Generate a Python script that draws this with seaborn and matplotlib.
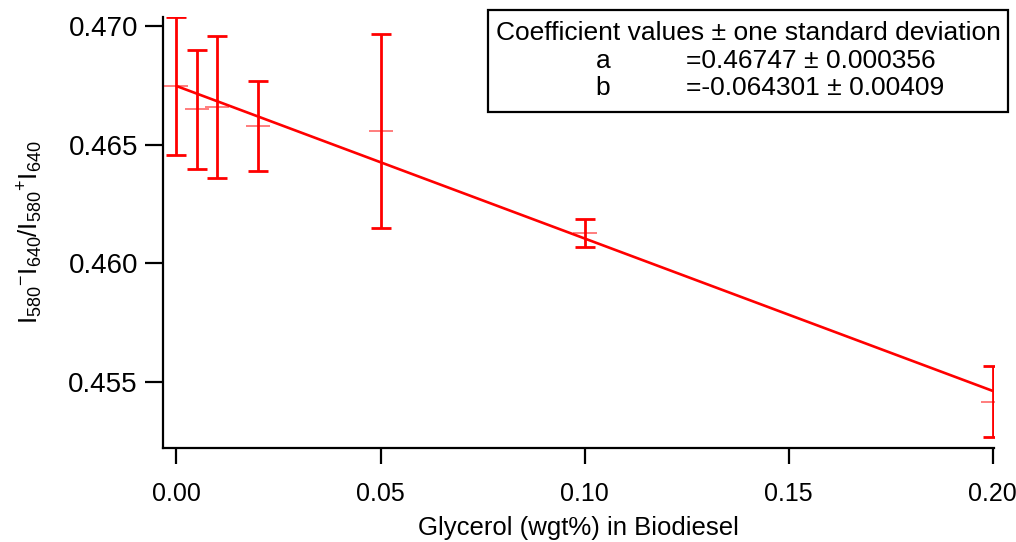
import numpy as np
import pandas as pd
import seaborn as sns
import matplotlib
matplotlib.use("Agg")
import matplotlib.pyplot as plt

# Measured ratio vs glycerol content, with one-sigma error bars
glycerol = [0.0, 0.005, 0.01, 0.02, 0.05, 0.10, 0.20]
ratio = [0.46747, 0.46648, 0.46657, 0.46578, 0.46557, 0.46128, 0.45416]
ratio_err = [0.00289, 0.00249, 0.00300, 0.00190, 0.00410, 0.00060, 0.00151]

# Linear fit coefficients: ratio = a + b * glycerol
coef_a, coef_a_sd = 0.46747, 0.000356
coef_b, coef_b_sd = -0.064301, 0.00409

x_ticks = [0.00, 0.05, 0.10, 0.15, 0.20]
y_ticks = [0.455, 0.460, 0.465, 0.470]

sns.set_theme(style="ticks")
plt.rcParams["font.family"] = ["Liberation Sans", "DejaVu Sans"]
plt.rcParams["mathtext.fontset"] = "custom"
plt.rcParams["mathtext.rm"] = "Liberation Sans"
plt.rcParams["mathtext.default"] = "regular"
plt.rcParams["text.color"] = "black"
plt.rcParams["axes.labelcolor"] = "black"

fig = plt.figure(figsize=(10.16, 5.42), dpi=100)
ax = fig.add_axes([0.1604, 0.1729, 0.8179, 0.7957])

red = "#ff0000"

# Fit line across the measured range
fit_x = np.array([glycerol[0], glycerol[-1]])
fit_df = pd.DataFrame({"x": fit_x, "y": coef_a + coef_b * fit_x})
sns.lineplot(data=fit_df, x="x", y="y", ax=ax, color=red, linewidth=1.9)

# Error bars and centre markers
ax.errorbar(glycerol, ratio, yerr=ratio_err, fmt="none", ecolor=red,
            elinewidth=2.0, capsize=7.5, capthick=2.0, zorder=3)
pts = pd.DataFrame({"x": glycerol, "y": ratio})
sns.scatterplot(data=pts, x="x", y="y", ax=ax, marker="_", s=280,
                color=red, alpha=0.55, linewidth=1.3, zorder=4)

ax.set_xlim(-0.0033, 0.2003)
ax.set_ylim(0.45219, 0.47038)
ax.set_xticks(x_ticks)
ax.set_xticklabels([f"{v:.2f}" for v in x_ticks])
ax.set_yticks(y_ticks)
ax.set_yticklabels([f"{v:.3f}" for v in y_ticks])

for side in ("top", "right"):
    ax.spines[side].set_visible(False)
for side in ("left", "bottom"):
    ax.spines[side].set_linewidth(1.6)
    ax.spines[side].set_color("black")
ax.tick_params(axis="x", direction="out", length=11.5, width=1.6,
               labelsize=18, pad=13, colors="black")
ax.tick_params(axis="y", direction="out", length=13, width=1.6,
               labelsize=20, pad=5, colors="black")

ax.set_xlabel("Glycerol (wgt%) in Biodiesel", fontsize=18.5, labelpad=7)
ax.set_ylabel(r"I$_{580}$$^{-}$I$_{640}$/I$_{580}$$^{+}$I$_{640}$",
              fontsize=18.5, labelpad=17)

# Coefficient box
box = plt.Rectangle((488 / 1016, 1 - 112 / 542), 520 / 1016, 102 / 542,
                    transform=fig.transFigure, fill=False,
                    edgecolor="black", linewidth=1.6)
fig.patches.append(box)
fig.text(748 / 1016, 1 - 33 / 542, "Coefficient values \u00b1 one standard deviation",
         ha="center", va="center", fontsize=19)
fig.text(603 / 1016, 1 - 61 / 542, "a", ha="center", va="center", fontsize=19)
fig.text(686 / 1016, 1 - 61 / 542, f"={coef_a:.5f} \u00b1 {coef_a_sd:.6f}",
         ha="left", va="center", fontsize=19)
fig.text(603 / 1016, 1 - 88 / 542, "b", ha="center", va="center", fontsize=19)
fig.text(686 / 1016, 1 - 88 / 542, f"={coef_b:.6f} \u00b1 {coef_b_sd:.5f}",
         ha="left", va="center", fontsize=19)

fig.savefig("out.png", dpi=100)
